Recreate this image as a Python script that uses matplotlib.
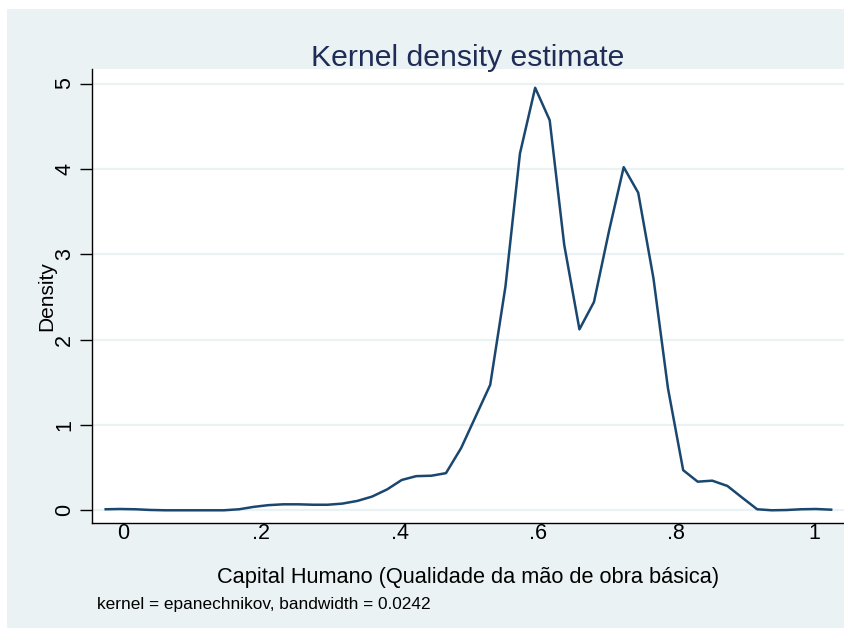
import matplotlib
matplotlib.use("Agg")
import matplotlib.pyplot as plt
from matplotlib.patches import Rectangle

# kdensity grid (50 points) and estimated density
capital = [-0.025, -0.004, 0.018, 0.039, 0.061, 0.082, 0.103, 0.125, 0.146, 0.168,
           0.189, 0.210, 0.232, 0.253, 0.275, 0.296, 0.317, 0.339, 0.360, 0.382,
           0.403, 0.424, 0.446, 0.467, 0.489, 0.510, 0.531, 0.553, 0.574, 0.596,
           0.617, 0.638, 0.660, 0.681, 0.703, 0.724, 0.745, 0.767, 0.788, 0.810,
           0.831, 0.852, 0.874, 0.895, 0.917, 0.938, 0.959, 0.981, 1.002, 1.024]
density = [0.012, 0.015, 0.012, 0.004, 0.0, 0.0, 0.0, 0.0, 0.0, 0.012,
           0.04, 0.06, 0.07, 0.07, 0.065, 0.065, 0.078, 0.11, 0.16, 0.245,
           0.355, 0.40, 0.405, 0.435, 0.73, 1.10, 1.47, 2.62, 4.18, 4.95,
           4.57, 3.11, 2.12, 2.44, 3.28, 4.02, 3.72, 2.72, 1.43, 0.47,
           0.335, 0.347, 0.285, 0.15, 0.012, 0.0, 0.003, 0.012, 0.015, 0.007]

xticks = [0, 0.2, 0.4, 0.6, 0.8, 1.0]
xticklabels = ["0", ".2", ".4", ".6", ".8", "1"]
yticks = [0, 1, 2, 3, 4, 5]

bg = "#eaf2f3"
navy = "#1a476f"
plt.rcParams['font.family'] = ['Liberation Sans', 'DejaVu Sans']

fig = plt.figure(figsize=(8.45, 6.28), dpi=100, facecolor="white")
# graph region (the picture is cropped a little at top/left)
fig.patches.append(Rectangle((7/845, 0), 1 - 7/845, 1 - 9/628,
                             transform=fig.transFigure, facecolor=bg,
                             edgecolor="none", zorder=-10))

ax = fig.add_axes([92/845, 1 - 523/628, 1 - 92/845, (523 - 69)/628])
ax.set_facecolor("white")
ax.plot(capital, density, color=navy, lw=1.8, zorder=3)

ax.set_xlim(-0.0448, 1.044)
ax.set_ylim(-0.149, 5.17)
ax.set_yticks(yticks)
ax.set_yticklabels([str(t) for t in yticks], rotation=90, va="center")
ax.set_xticks(xticks)
ax.set_xticklabels(xticklabels)
ax.grid(axis="y", color=bg, lw=1.6, zorder=0)
ax.tick_params(axis="y", length=9, width=1, pad=3, labelsize=15.5)
ax.tick_params(axis="x", length=0, pad=0, labelsize=15.5)
for s in ["top", "right"]:
    ax.spines[s].set_visible(False)
for s in ["left", "bottom"]:
    ax.spines[s].set_linewidth(1)
    ax.spines[s].set_color("black")

fig.text(468/845, 1 - 58/628, "Kernel density estimate", ha="center", va="center",
         fontsize=21.7, color="#1e2c57")
fig.text(468/845, 1 - 577/628, "Capital Humano (Qualidade da m\u00e3o de obra b\u00e1sica)",
         ha="center", va="center", fontsize=15.7)
fig.text(47/845, 1 - 296/628, "Density", ha="center", va="center", rotation=90,
         fontsize=15)
fig.text(97/845, 1 - 604/628, "kernel = epanechnikov, bandwidth = 0.0242",
         ha="left", va="center", fontsize=12.4)

fig.savefig("out.png", dpi=100, facecolor=fig.get_facecolor())
